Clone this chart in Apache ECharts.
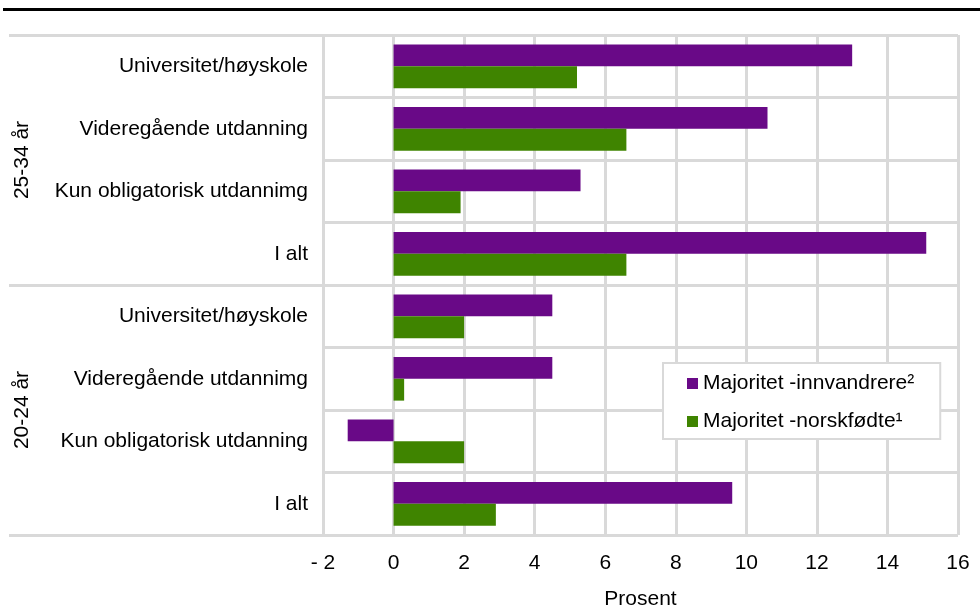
<!DOCTYPE html>
<html>
<head>
<meta charset="utf-8">
<style>html,body{margin:0;padding:0;background:#fff}#chart{width:980px;height:606px}</style>
<script src="https://cdn.jsdelivr.net/npm/echarts@6/dist/echarts.min.js"></script>
</head>
<body>
<div id="chart"></div>
<script>
var categories = [
  'Universitet/høyskole',
  'Videregående utdanning',
  'Kun obligatorisk utdannimg',
  'I alt',
  'Universitet/høyskole',
  'Videregående utdannimg',
  'Kun obligatorisk utdanning',
  'I alt'
];
var groups = ['25-34 år', '20-24 år'];
var seriesNames = ['Majoritet -innvandrere²', 'Majoritet -norskfødte¹'];
var innvandrere = [13.0, 10.6, 5.3, 15.1, 4.5, 4.5, -1.3, 9.6];
var norskfodte = [5.2, 6.6, 1.9, 6.6, 2.0, 0.3, 2.0, 2.9];
var xTickLabels = ['- 2', '0', '2', '4', '6', '8', '10', '12', '14', '16'];
var xMin = -2, xMax = 16, xInterval = 2;

var FONT = 'Liberation Sans, Arial, sans-serif';
var FS = 21;
var GRID = '#d9d9d9';
var chart = echarts.init(document.getElementById('chart'), null, {renderer: 'canvas'});
chart.setOption({
  animation: false,
  backgroundColor: '#ffffff',
  textStyle: {fontFamily: FONT, color: '#000'},
  graphic: [{
    type: 'rect', left: 3, top: 8, shape: {width: 977, height: 3},
    style: {fill: '#000'}, silent: true
  }],
  grid: {left: 323, right: 22, top: 35, bottom: 71, containLabel: false, outerBoundsMode: 'none'},
  legend: {
    orient: 'vertical', left: 663, top: 363,
    data: seriesNames,
    icon: 'rect', itemWidth: 11, itemHeight: 11, itemGap: 17,
    padding: [10, 26, 7, 24],
    backgroundColor: '#fff', borderColor: GRID, borderWidth: 2,
    textStyle: {fontSize: FS, color: '#000', fontFamily: FONT}
  },
  xAxis: {
    type: 'value', min: xMin, max: xMax, interval: xInterval,
    name: 'Prosent', nameLocation: 'middle', nameGap: 54,
    nameTextStyle: {fontSize: FS, color: '#000', fontFamily: FONT},
    axisLine: {show: false}, axisTick: {show: false},
    axisLabel: {
      fontSize: FS, color: '#000', margin: 18, fontFamily: FONT,
      formatter: function (v) { return xTickLabels[Math.round((v - xMin) / xInterval)]; }
    },
    splitLine: {show: true, lineStyle: {color: GRID, width: 3}}
  },
  yAxis: [{
    type: 'category', inverse: true, data: categories,
    axisLine: {show: false}, axisTick: {show: false},
    axisLabel: {fontSize: FS, color: '#000', margin: 15, fontFamily: FONT, padding: [3, 0, 0, 0]},
    splitLine: {show: true, lineStyle: {color: GRID, width: 3}}
  }, {
    type: 'category', inverse: true, data: groups, position: 'left',
    axisLine: {show: false},
    axisTick: {show: true, inside: false, length: 314, lineStyle: {color: GRID, width: 3}},
    axisLabel: {fontSize: FS, color: '#000', rotate: 90, margin: 290, fontFamily: FONT},
    splitLine: {show: false}
  }],
  series: [{
    name: seriesNames[0], type: 'bar', data: innvandrere, yAxisIndex: 0,
    itemStyle: {color: '#690987'}, barGap: '0%', barCategoryGap: '30%'
  }, {
    name: seriesNames[1], type: 'bar', data: norskfodte, yAxisIndex: 0,
    itemStyle: {color: '#3f8400'}, barGap: '0%', barCategoryGap: '30%'
  }]
});
</script>
</body>
</html>
